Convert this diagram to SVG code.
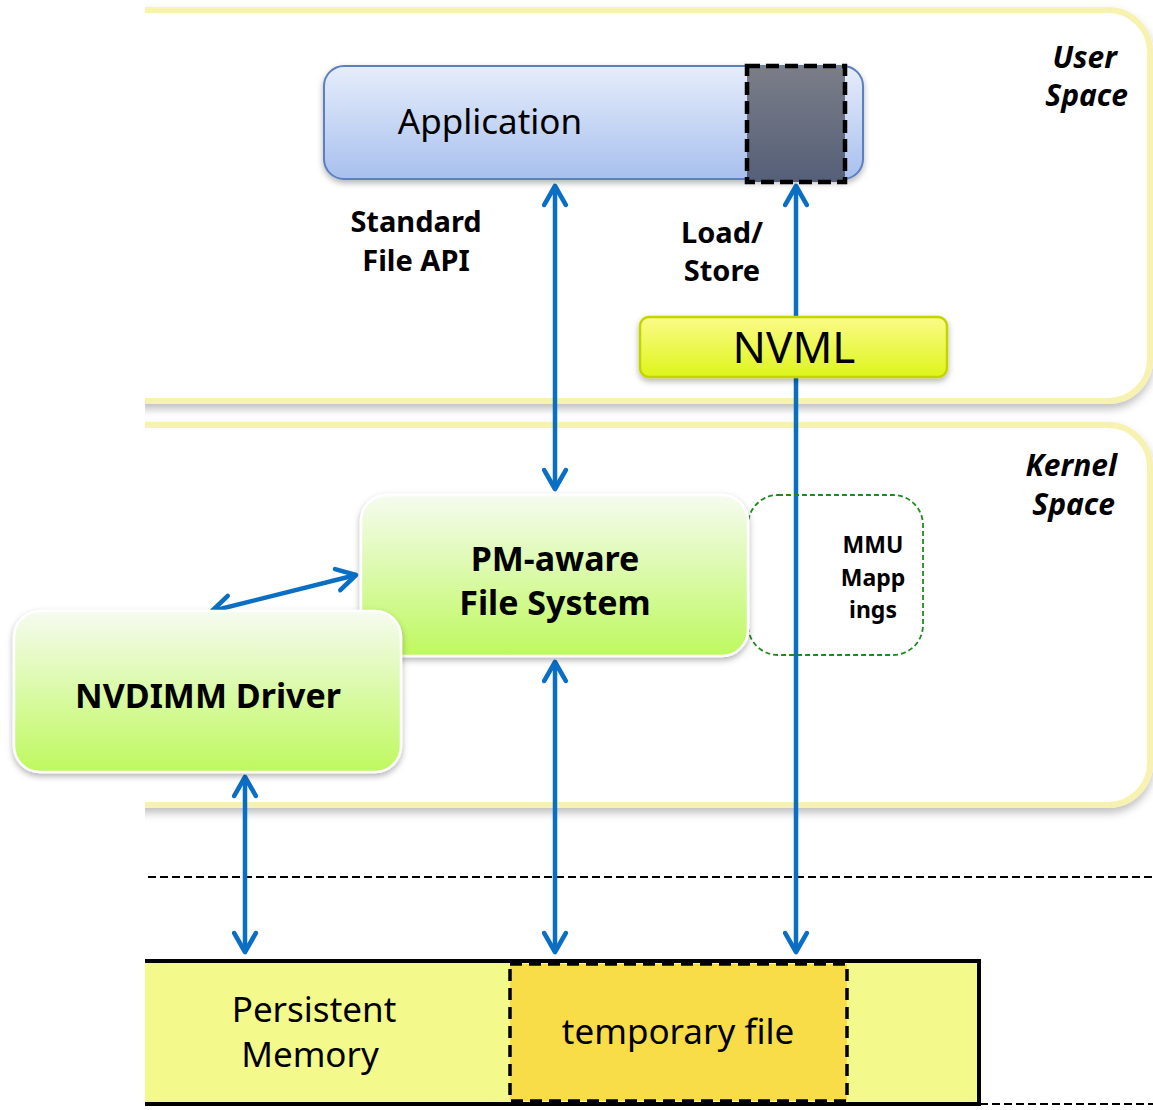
<svg xmlns="http://www.w3.org/2000/svg" width="1153" height="1110" viewBox="0 0 1153 1110">
<style>
.t{font-family:"Noto Sans","Open Sans","Liberation Sans",sans-serif;fill:#000}
.b{font-weight:bold}
.i{font-style:italic;font-weight:bold}
.panel{fill:#fff;stroke:#f8f2b0;stroke-width:6}
.conn{stroke:#0a6fc4;stroke-width:4.5;fill:none;marker-start:url(#ah);marker-end:url(#ah)}
</style>
<defs>
<marker id="ah" viewBox="0 0 20 20" refX="17" refY="10" markerWidth="6" markerHeight="6" orient="auto-start-reverse" markerUnits="strokeWidth">
<path d="M3,2 L17,10 L3,18" fill="none" stroke="#0a6fc4" stroke-width="3.4" stroke-linecap="round" stroke-linejoin="round"/>
</marker>
<filter id="sh" x="-10%" y="-10%" width="120%" height="130%">
<feDropShadow dx="0" dy="5" stdDeviation="4" flood-color="#000" flood-opacity="0.25"/>
</filter>
<filter id="sh2" x="-10%" y="-10%" width="120%" height="130%">
<feDropShadow dx="0" dy="3" stdDeviation="3" flood-color="#000" flood-opacity="0.3"/>
</filter>
<clipPath id="clipL"><rect x="145" y="0" width="1008" height="1110"/></clipPath>
<linearGradient id="gApp" x1="0" y1="0" x2="0" y2="1"><stop offset="0" stop-color="#e6edfb"/><stop offset="1" stop-color="#a8c0ee"/></linearGradient>
<linearGradient id="gDark" x1="0" y1="0" x2="0" y2="1"><stop offset="0" stop-color="#7b7e88"/><stop offset="1" stop-color="#555f78"/></linearGradient>
<linearGradient id="gNv" x1="0" y1="0" x2="0" y2="1"><stop offset="0" stop-color="#fbfb88"/><stop offset="1" stop-color="#ddf51a"/></linearGradient>
<linearGradient id="gGr" x1="0" y1="0" x2="0" y2="1"><stop offset="0" stop-color="#f6fbf0"/><stop offset="1" stop-color="#bef95e"/></linearGradient>
</defs>
<rect width="1153" height="1110" fill="#fff"/>

<g id="user-space" clip-path="url(#clipL)">
<rect class="panel" x="100" y="10" width="1050" height="391" rx="42" filter="url(#sh)"/>
</g>
<g id="kernel-space" clip-path="url(#clipL)">
<rect class="panel" x="100" y="425" width="1050" height="380" rx="42" filter="url(#sh)"/>
</g>
<text class="t i" x="1117" y="68" font-size="30" text-anchor="end">User</text>
<text class="t i" x="1128" y="106" font-size="30" text-anchor="end">Space</text>
<text class="t i" x="1117" y="476" font-size="30" text-anchor="end">Kernel</text>
<text class="t i" x="1115" y="515" font-size="30" text-anchor="end">Space</text>

<g id="dividers">
<line x1="148" y1="877" x2="1153" y2="877" stroke="#000" stroke-width="2" stroke-dasharray="8,4"/>
<line x1="980" y1="1104" x2="1153" y2="1104" stroke="#000" stroke-width="2" stroke-dasharray="8,4"/>
</g>

<g id="persistent-memory" clip-path="url(#clipL)">
<rect x="120" y="961" width="859" height="143" fill="#f3f98a" stroke="#000" stroke-width="4"/>
</g>
<text class="t" x="314" y="1022" font-size="35" text-anchor="middle">Persistent</text>
<text class="t" x="310" y="1067" font-size="35" text-anchor="middle">Memory</text>
<g id="temporary-file">
<rect x="510" y="964" width="337" height="137" fill="#f8dc48" stroke="#000" stroke-width="3.5" stroke-dasharray="12,7"/>
<text class="t" x="678" y="1044" font-size="35" text-anchor="middle">temporary file</text>
</g>

<g id="connectors">
<line class="conn" x1="555" y1="186" x2="555" y2="489"/>
<line class="conn" x1="796" y1="186" x2="796" y2="952"/>
<line class="conn" x1="555" y1="662" x2="555" y2="952"/>
<line class="conn" x1="245" y1="777" x2="245" y2="952"/>
<line class="conn" x1="212" y1="611" x2="356" y2="575"/>
</g>

<g id="application">
<rect x="324" y="66" width="539" height="113" rx="20" fill="url(#gApp)" stroke="#5b7fbf" stroke-width="2" filter="url(#sh2)"/>
<text class="t" x="490" y="134" font-size="35" text-anchor="middle">Application</text>
<rect x="747" y="66" width="98" height="116" fill="url(#gDark)" stroke="#000" stroke-width="4.5" stroke-dasharray="13,6"/>
</g>

<g id="nvml">
<rect x="640" y="317" width="307" height="60" rx="9" fill="url(#gNv)" stroke="#c4d400" stroke-width="2.5" filter="url(#sh2)"/>
<text class="t" x="794" y="363" font-size="44" text-anchor="middle">NVML</text>
</g>

<g id="standard-file-api-label">
<text class="t b" x="416" y="232" font-size="29" text-anchor="middle">Standard</text>
<text class="t b" x="416" y="271" font-size="29" text-anchor="middle">File API</text>
</g>
<g id="load-store-label">
<text class="t b" x="722" y="243" font-size="29" text-anchor="middle">Load/</text>
<text class="t b" x="722" y="281" font-size="29" text-anchor="middle">Store</text>
</g>

<g id="mmu-mappings">
<rect x="748" y="495" width="175" height="160" rx="30" fill="none" stroke="#1f8a1f" stroke-width="1.8" stroke-dasharray="5,3"/>
<text class="t b" x="873" y="553" font-size="23" text-anchor="middle">MMU</text>
<text class="t b" x="873" y="586" font-size="23" text-anchor="middle">Mapp</text>
<text class="t b" x="873" y="618" font-size="23" text-anchor="middle">ings</text>
</g>

<g id="pm-aware-fs">
<rect x="361" y="495" width="387" height="161" rx="26" fill="url(#gGr)" stroke="#fff" stroke-width="2.5" filter="url(#sh2)"/>
<text class="t b" x="555" y="571" font-size="34" text-anchor="middle">PM-aware</text>
<text class="t b" x="555" y="615" font-size="34" text-anchor="middle">File System</text>
</g>

<g id="nvdimm-driver">
<rect x="14" y="611" width="387" height="161" rx="26" fill="url(#gGr)" stroke="#fff" stroke-width="2.5" filter="url(#sh2)"/>
<text class="t b" x="208" y="708" font-size="34" text-anchor="middle">NVDIMM Driver</text>
</g>
</svg>
